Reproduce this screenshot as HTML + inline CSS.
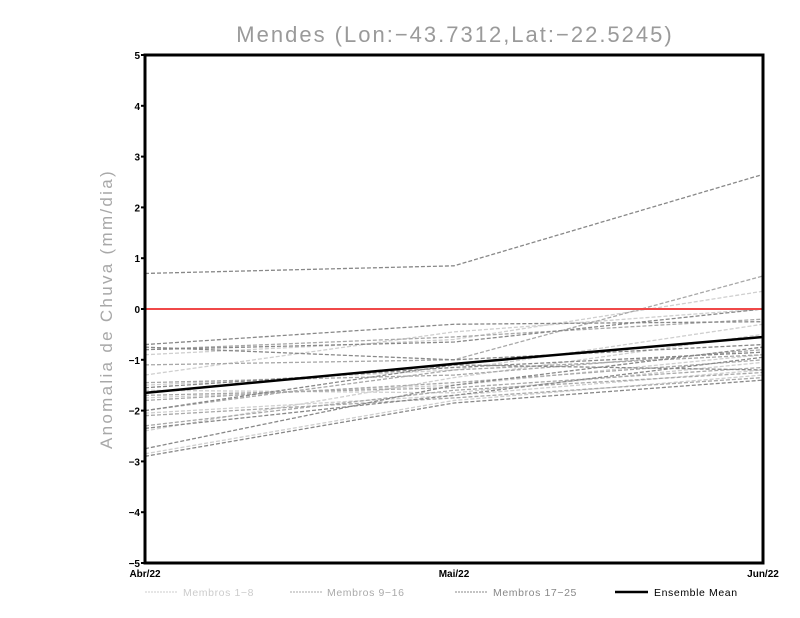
<!DOCTYPE html>
<html><head><meta charset="utf-8"><style>
html,body{margin:0;padding:0;background:#fff;}
svg{display:block;}
text{font-family:"Liberation Sans",sans-serif;}
</style></head><body>
<svg id="chart" width="800" height="618">
<text x="455" y="42" text-anchor="middle" font-size="22" fill="#9a9a9a" letter-spacing="2">Mendes (Lon:−43.7312,Lat:−22.5245)</text>
<text transform="translate(112,309) rotate(-90)" text-anchor="middle" font-size="17" fill="#a8a8a8" letter-spacing="2.3">Anomalia de Chuva (mm/dia)</text>
<g id="lines"></g>
<rect x="145" y="55" width="618" height="508" fill="none" stroke="#000" stroke-width="3"/>
<g id="axes"></g>
<g font-size="10.5" letter-spacing="0.6">
<line x1="145" y1="592" x2="178" y2="592" stroke="#ccc" stroke-dasharray="2,1"/>
<text x="183" y="596" fill="#ccc">Membros 1−8</text>
<line x1="290" y1="592" x2="322" y2="592" stroke="#aaa" stroke-dasharray="2,1"/>
<text x="327" y="596" fill="#aaa">Membros 9−16</text>
<line x1="455" y1="592" x2="488" y2="592" stroke="#888" stroke-dasharray="2,1"/>
<text x="493" y="596" fill="#888">Membros 17−25</text>
<line x1="615" y1="592" x2="648" y2="592" stroke="#000" stroke-width="2.5"/>
<text x="654" y="596" fill="#000">Ensemble Mean</text>
</g>
</svg>
<script>
const categories = ["Abr/22","Mai/22","Jun/22"];
const yTicks = [5,4,3,2,1,0,-1,-2,-3,-4,-5];
const members1to8 = [
 [-0.9,-0.6,0.35],[-1.5,-1.2,-0.3],[-1.75,-1.5,-0.9],[-2.05,-1.7,-1.2],
 [-2.4,-1.35,-0.5],[-2.85,-1.8,-1.3],[-1.3,-0.45,0.0],[-1.6,-1.65,-1.05]];
const members9to16 = [
 [-1.1,-1.0,0.65],[-1.45,-1.3,-0.8],[-1.7,-1.55,-1.15],[-2.0,-1.2,-0.9],
 [-2.3,-1.6,-1.25],[-0.8,-0.55,-0.2],[-1.8,-1.45,-1.0],[-2.1,-1.75,-1.35]];
const members17to25 = [
 [0.7,0.85,2.65],[-0.7,-0.3,-0.25],[-0.75,-1.0,-0.7],[-0.8,-0.65,0.0],
 [-1.55,-1.15,-0.85],[-2.0,-1.1,-1.2],[-2.75,-1.5,-0.75],[-2.9,-1.85,-1.4],
 [-2.35,-1.7,-0.95]];
const ensembleMean = [-1.65,-1.08,-0.55];

const ns="http://www.w3.org/2000/svg";
const X0=145,X1=763,Y0=55,Y1=563;
function xScale(i){return X0+(X1-X0)*i/(categories.length-1);}
function yScale(v){return Y1-(v+5)*(Y1-Y0)/10;}
const lines=document.getElementById('lines'), axes=document.getElementById('axes');
function poly(vals,color,w,dash,name){
 const p=document.createElementNS(ns,'polyline');
 p.setAttribute('points',vals.map((v,i)=>xScale(i)+','+yScale(v)).join(' '));
 p.setAttribute('fill','none');p.setAttribute('stroke',color);p.setAttribute('stroke-width',w);
 if(dash)p.setAttribute('stroke-dasharray',dash);
 
 
 lines.appendChild(p);
}
members1to8.forEach((m,i)=>poly(m,'#cfcfcf',1.3,'4,2','member-line-'+(i+1)));
members9to16.forEach((m,i)=>poly(m,'#a8a8a8',1.3,'4,2','member-line-'+(i+9)));
members17to25.forEach((m,i)=>poly(m,'#888',1.3,'4,2','member-line-'+(i+17)));
const z=document.createElementNS(ns,'line');
z.setAttribute('x1',X0);z.setAttribute('x2',X1);z.setAttribute('y1',yScale(0));z.setAttribute('y2',yScale(0));
z.setAttribute('stroke','#f04848');z.setAttribute('stroke-width',2);


lines.appendChild(z);
poly(ensembleMean,'#000',2.5,null,'ensemble-mean-line');
yTicks.forEach(v=>{
 const t=document.createElementNS(ns,'text');
 t.setAttribute('x',X0-5);t.setAttribute('y',yScale(v)+4);t.setAttribute('text-anchor','end');
 t.setAttribute('font-size','10');t.setAttribute('font-weight','bold');
 t.textContent=v<0?'−'+(-v):v;
 
 
 axes.appendChild(t);
 const l=document.createElementNS(ns,'line');
 l.setAttribute('x1',X0-4);l.setAttribute('x2',X0);l.setAttribute('y1',yScale(v));l.setAttribute('y2',yScale(v));
 l.setAttribute('stroke','#000');l.setAttribute('stroke-width',2);
 
 
 axes.appendChild(l);
});
categories.forEach((c,i)=>{
 const t=document.createElementNS(ns,'text');
 t.setAttribute('x',xScale(i));t.setAttribute('y',Y1+14);t.setAttribute('text-anchor','middle');
 t.setAttribute('font-size','10');t.setAttribute('font-weight','bold');
 t.textContent=c;
 
 
 axes.appendChild(t);
});
</script>
</body></html>
